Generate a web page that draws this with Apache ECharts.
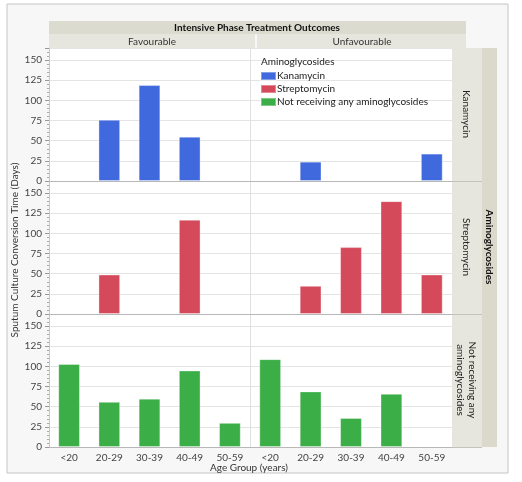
<!DOCTYPE html>
<html>
<head>
<meta charset="utf-8">
<script src="https://cdn.jsdelivr.net/npm/echarts@6/dist/echarts.min.js"></script>
<style>
  html, body { margin: 0; padding: 0; background: #ffffff; }
  #chart { width: 522px; height: 482px; }
</style>
</head>
<body>
<div id="chart"></div>
<script>
var ageGroups = ['<20', '20-29', '30-39', '40-49', '50-59'];
var outcomes = ['Favourable', 'Unfavourable'];
var drugs = ['Kanamycin', 'Streptomycin', 'Not receiving any aminoglycosides'];
var stripLabels = ['Kanamycin', 'Streptomycin', 'Not receiving any\naminoglycosides'];
var yTicks = [0, 25, 50, 75, 100, 125, 150];

var kanamycinFav = [null, 76, 119, 55, null];
var kanamycinUnfav = [null, 24, null, null, 34];
var streptomycinFav = [null, 49, null, 117, null];
var streptomycinUnfav = [null, 35, 83, 140, 49];
var noneFav = [103, 56, 60, 95, 30];
var noneUnfav = [109, 69, 36, 66, null];

var values = [
    [kanamycinFav, kanamycinUnfav],
    [streptomycinFav, streptomycinUnfav],
    [noneFav, noneUnfav]
];
var colors = ['#4169de', '#d44a5b', '#3bae47'];
var font = 'Lato, "Noto Sans", sans-serif';

var grids = [], xAxes = [], yAxes = [], series = [];
for (var r = 0; r < 3; r++) {
    for (var c = 0; c < 2; c++) {
        var i = grids.length;
        grids.push({
            left: c === 0 ? 49 : 250,
            width: c === 0 ? 201 : 202,
            top: 48 + 133 * r,
            height: 133,
            show: true,
            backgroundColor: '#ffffff',
            borderWidth: 0
        });
        xAxes.push({
            type: 'category',
            gridIndex: i,
            data: ageGroups,
            axisLine: { show: true, lineStyle: { color: '#b8b8b8' } },
            axisTick: { show: false },
            axisLabel: {
                show: r === 2,
                color: '#444',
                fontSize: 10,
                fontFamily: font,
                margin: 6
            }
        });
        yAxes.push({
            type: 'value',
            gridIndex: i,
            min: 0,
            max: 165,
            interval: 25,
            axisLine: { show: true, lineStyle: { color: c === 0 ? '#c8c8c8' : '#e0e0e0' } },
            axisTick: { show: c === 0, length: 4, lineStyle: { color: '#999' } },
            minorTick: { show: c === 0, splitNumber: 5, length: 2, lineStyle: { color: '#aaa' } },
            axisLabel: {
                show: c === 0,
                color: '#444',
                fontSize: 10,
                fontFamily: font,
                margin: 7,
                formatter: function (v) { return yTicks.indexOf(v) >= 0 ? v : ''; }
            },
            splitLine: { show: true, lineStyle: { color: '#e4e4e4' } }
        });
        series.push({
            type: 'bar',
            name: drugs[r],
            xAxisIndex: i,
            yAxisIndex: i,
            data: values[r][c],
            barWidth: '54%',
            itemStyle: {
                color: colors[r],
                borderColor: 'rgba(255,255,255,0.35)',
                borderWidth: 1
            }
        });
    }
}

var graphics = [
    { type: 'rect', shape: { x: 7, y: 4, width: 501, height: 469 },
      style: { fill: '#f7f7f7', stroke: '#c4c4c4', lineWidth: 1 }, z: -10 },
    { type: 'rect', shape: { x: 49, y: 21, width: 417, height: 13 },
      style: { fill: '#dcdbcf' } },
    { type: 'text', x: 257, y: 27.5,
      style: { text: 'Intensive Phase Treatment Outcomes', font: 'bold 10px ' + font,
               fill: '#111', align: 'center', verticalAlign: 'middle' } },
    { type: 'rect', shape: { x: 49, y: 34, width: 206, height: 14 },
      style: { fill: '#e7e6de' } },
    { type: 'rect', shape: { x: 257, y: 34, width: 209, height: 14 },
      style: { fill: '#e7e6de' } },
    { type: 'rect', shape: { x: 452, y: 48, width: 30, height: 399 },
      style: { fill: '#e7e6de' } },
    { type: 'rect', shape: { x: 482, y: 48, width: 15, height: 399 },
      style: { fill: '#dad9cc' } },
    { type: 'line', shape: { x1: 452, y1: 181.5, x2: 482, y2: 181.5 },
      style: { stroke: '#c4c4bc' } },
    { type: 'line', shape: { x1: 452, y1: 314.5, x2: 482, y2: 314.5 },
      style: { stroke: '#c4c4bc' } },
    { type: 'line', shape: { x1: 452, y1: 447.5, x2: 482, y2: 447.5 },
      style: { stroke: '#c4c4bc' } },
    { type: 'text', x: 489.5, y: 247, rotation: -Math.PI / 2,
      style: { text: 'Aminoglycosides', font: 'bold 10px ' + font,
               fill: '#111', align: 'center', verticalAlign: 'middle' } },
    { type: 'text', x: 15, y: 250, rotation: Math.PI / 2,
      style: { text: 'Sputum Culture Conversion Time (Days)', font: '10px ' + font,
               fill: '#333', align: 'center', verticalAlign: 'middle' } },
    { type: 'text', x: 249, y: 468,
      style: { text: 'Age Group (years)', font: '10px ' + font,
               fill: '#333', align: 'center', verticalAlign: 'middle' } },
    { type: 'text', x: 261, y: 62, z: 200,
      style: { text: 'Aminoglycosides', font: '10px ' + font,
               fill: '#222', align: 'left', verticalAlign: 'middle' } }
];
for (var k = 0; k < outcomes.length; k++) {
    graphics.push({ type: 'text', x: k === 0 ? 152 : 362, y: 41.5,
        style: { text: outcomes[k], font: '10px ' + font, fill: '#333',
                 align: 'center', verticalAlign: 'middle' } });
}
for (var s = 0; s < stripLabels.length; s++) {
    graphics.push({ type: 'text', x: 466, y: 114 + 133 * s, rotation: -Math.PI / 2,
        style: { text: stripLabels[s], font: '10px ' + font, fill: '#222',
                 align: 'center', verticalAlign: 'middle', lineHeight: 12 } });
}

var option = {
    animation: false,
    grid: grids,
    xAxis: xAxes,
    yAxis: yAxes,
    series: series,
    legend: {
        data: drugs,
        orient: 'vertical',
        left: 260,
        top: 71,
        itemWidth: 15,
        itemHeight: 8,
        itemGap: 3,
        icon: 'rect',
        textStyle: { fontSize: 10, fontFamily: font, color: '#222', padding: [0, 0, 0, -4] },
        padding: 0
    },
    graphic: graphics
};

var myChart = echarts.init(document.getElementById('chart'));
myChart.setOption(option);
</script>
</body>
</html>
